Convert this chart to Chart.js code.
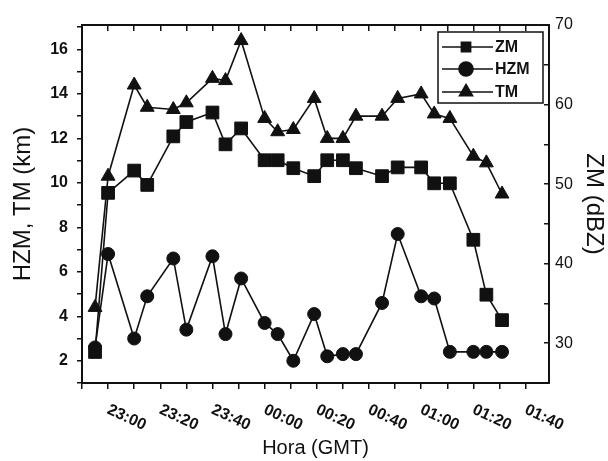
<!DOCTYPE html>
<html lang="es">
<head>
<meta charset="UTF-8">
<title>ZM, HZM, TM</title>
<script src="https://cdn.jsdelivr.net/npm/chart.js"></script>
<style>
  body { margin: 0; background: #fff; }
</style>
</head>
<body>
<canvas id="grafico" width="608" height="461"></canvas>
<script>
// horas de cada medida (GMT)
var horas = ['22:55','23:00','23:10','23:15','23:25','23:30','23:40','23:45','23:51','00:00','00:05','00:11',
             '00:19','00:24','00:30','00:35','00:45','00:51','01:00','01:05','01:11','01:20','01:25','01:31'];

// ZM en dBZ (eje derecho)
var zm = [28.9, 48.9, 51.7, 49.9, 56.0, 57.8, 59.0, 55.0, 57.0, 53.0, 53.0, 52.0,
          51.0, 53.0, 53.0, 52.0, 51.0, 52.1, 52.1, 50.1, 50.1, 43.0, 36.1, 32.9];
// HZM en km (eje izquierdo)
var hzm = [2.6, 6.8, 3.0, 4.9, 6.6, 3.4, 6.7, 3.2, 5.7, 3.7, 3.2, 2.0,
           4.1, 2.2, 2.3, 2.3, 4.6, 7.7, 4.9, 4.8, 2.4, 2.4, 2.4, 2.4];
// TM en km (eje izquierdo)
var tm = [4.4, 10.3, 14.4, 13.4, 13.3, 13.6, 14.7, 14.6, 16.4, 12.9, 12.3, 12.4,
          13.8, 12.0, 12.0, 13.0, 13.0, 13.8, 14.0, 13.1, 12.9, 11.2, 10.9, 9.5];

// etiquetas del eje x, cada 20 min
var etiquetasX = ['23:00','23:20','23:40','00:00','00:20','00:40','01:00','01:20','01:40'];

// minutos desde las 00:00 del primer dia
function aMinutos(h) {
    var p = h.split(':');
    var m = parseInt(p[0]) * 60 + parseInt(p[1]);
    if (m < 720) m += 1440;
    return m;
}
function aHora(m) {
    m = m % 1440;
    var h = Math.floor(m / 60), mm = m % 60;
    return (h < 10 ? '0' : '') + h + ':' + (mm < 10 ? '0' : '') + mm;
}

function puntos(valores) {
    return horas.map(function (h, i) { return { x: aMinutos(h), y: valores[i] }; });
}

var negro = '#111';
var fuente = '"Liberation Sans", Arial, sans-serif';
Chart.defaults.font.family = fuente;
Chart.defaults.color = negro;

var xMin = aMinutos('22:50'), xMax = aMinutos('01:49');

var series = [
    { label: 'ZM', data: puntos(zm), yAxisID: 'y2', pointStyle: 'rect', pointRadius: 9 },
    { label: 'HZM', data: puntos(hzm), yAxisID: 'y', pointStyle: 'circle', pointRadius: 6.5 },
    { label: 'TM', data: puntos(tm), yAxisID: 'y', pointStyle: 'triangle', pointRadius: 8 }
];
series.forEach(function (s) {
    s.borderColor = negro;
    s.backgroundColor = negro;
    s.borderWidth = 1.6;
    s.pointBorderWidth = 1;
    s.tension = 0;
});

function ticksX(scale) {
    var t = [];
    for (var v = aMinutos('23:00') - 10; v <= aMinutos('01:40'); v += 10) t.push({ value: v });
    scale.ticks = t;
}

// etiquetas del eje x giradas hacia abajo
var etiquetasGiradas = {
    id: 'etiquetasGiradas',
    afterDraw: function (chart) {
        var sc = chart.scales.x, ctx = chart.ctx;
        ctx.save();
        ctx.font = 'bold 16px ' + fuente;
        ctx.fillStyle = negro;
        ctx.textAlign = 'left';
        ctx.textBaseline = 'middle';
        etiquetasX.forEach(function (e) {
            var px = sc.getPixelForValue(aMinutos(e));
            ctx.save();
            ctx.translate(px, sc.top + 26);
            ctx.rotate(25 * Math.PI / 180);
            ctx.fillText(e, 0, 0);
            ctx.restore();
        });
        ctx.restore();
    }
};

// leyenda con linea y marcador, dentro del area
var leyenda = {
    id: 'leyenda',
    afterDraw: function (chart) {
        var ctx = chart.ctx, ca = chart.chartArea;
        var w = 105, h = 71;
        var left = ca.right - 6 - w, top = ca.top + 7;
        ctx.save();
        ctx.strokeStyle = negro;
        ctx.fillStyle = negro;
        ctx.lineWidth = 1.5;
        ctx.strokeRect(left, top, w, h);
        var filas = [15, 37, 60];
        var radios = [6.5, 7, 7.5];
        chart.data.datasets.forEach(function (ds, i) {
            var y = top + filas[i];
            ctx.beginPath();
            ctx.moveTo(left + 4, y);
            ctx.lineTo(left + 55, y);
            ctx.lineWidth = 1.6;
            ctx.stroke();
            Chart.helpers.drawPoint(ctx, { pointStyle: ds.pointStyle, rotation: 0, radius: radios[i], borderWidth: 1 }, left + 28, y);
            ctx.font = 'bold 16px ' + fuente;
            ctx.textAlign = 'left';
            ctx.textBaseline = 'middle';
            ctx.fillText(ds.label, left + 57, y + 1);
        });
        ctx.restore();
    }
};

var ctx = document.getElementById('grafico').getContext('2d');
var grafico = new Chart(ctx, {
    type: 'line',
    data: { datasets: series },
    options: {
        responsive: false,
        animation: false,
        layout: { padding: { top: 25, left: 0, right: 0, bottom: 0 } },
        plugins: { legend: { display: false }, tooltip: { enabled: false } },
        scales: {
            x: {
                type: 'linear', position: 'bottom', min: xMin, max: xMax,
                afterBuildTicks: ticksX,
                afterFit: function (s) { s.height = 78; },
                ticks: { display: false },
                grid: { drawOnChartArea: false, color: negro, tickLength: 6, lineWidth: 1.5 },
                border: { display: true, color: negro, width: 2 },
                title: { display: true, text: 'Hora (GMT)', font: { size: 20 }, padding: { top: 0, bottom: 1 } }
            },
            x2: {
                type: 'linear', position: 'top', min: xMin, max: xMax,
                afterBuildTicks: ticksX,
                afterFit: function (s) { s.height = 0; },
                ticks: { display: false },
                grid: { drawOnChartArea: false, color: negro, tickLength: -6, lineWidth: 1.5 },
                border: { display: true, color: negro, width: 2 }
            },
            y: {
                type: 'linear', position: 'left', min: 1, max: 17.1,
                afterBuildTicks: function (s) {
                    var t = [];
                    for (var v = 1; v <= 17; v++) t.push({ value: v });
                    s.ticks = t;
                },
                afterFit: function (s) { s.width = 82; },
                ticks: {
                    padding: 9, font: { size: 16, weight: 'bold' },
                    callback: function (v) { return v % 2 === 0 ? v : ''; }
                },
                grid: { drawOnChartArea: false, color: negro, tickLength: 5, lineWidth: 1.5 },
                border: { display: true, color: negro, width: 2 },
                title: { display: true, text: 'HZM, TM (km)', font: { size: 24 }, padding: { top: 9, bottom: 0 } }
            },
            y2: {
                type: 'linear', position: 'right', min: 25, max: 70,
                afterBuildTicks: function (s) {
                    var t = [];
                    for (var v = 25; v <= 70; v += 5) t.push({ value: v });
                    s.ticks = t;
                },
                afterFit: function (s) { s.width = 59; },
                ticks: {
                    padding: 11, font: { size: 16 },
                    callback: function (v) { return v % 10 === 0 ? v : ''; }
                },
                grid: { drawOnChartArea: false, color: negro, tickLength: -5, lineWidth: 1.5 },
                border: { display: true, color: negro, width: 2 },
                title: { display: true, text: 'ZM (dBZ)', font: { size: 24 }, padding: { top: 0, bottom: 0 } }
            }
        }
    },
    plugins: [etiquetasGiradas, leyenda]
});
</script>
</body>
</html>
